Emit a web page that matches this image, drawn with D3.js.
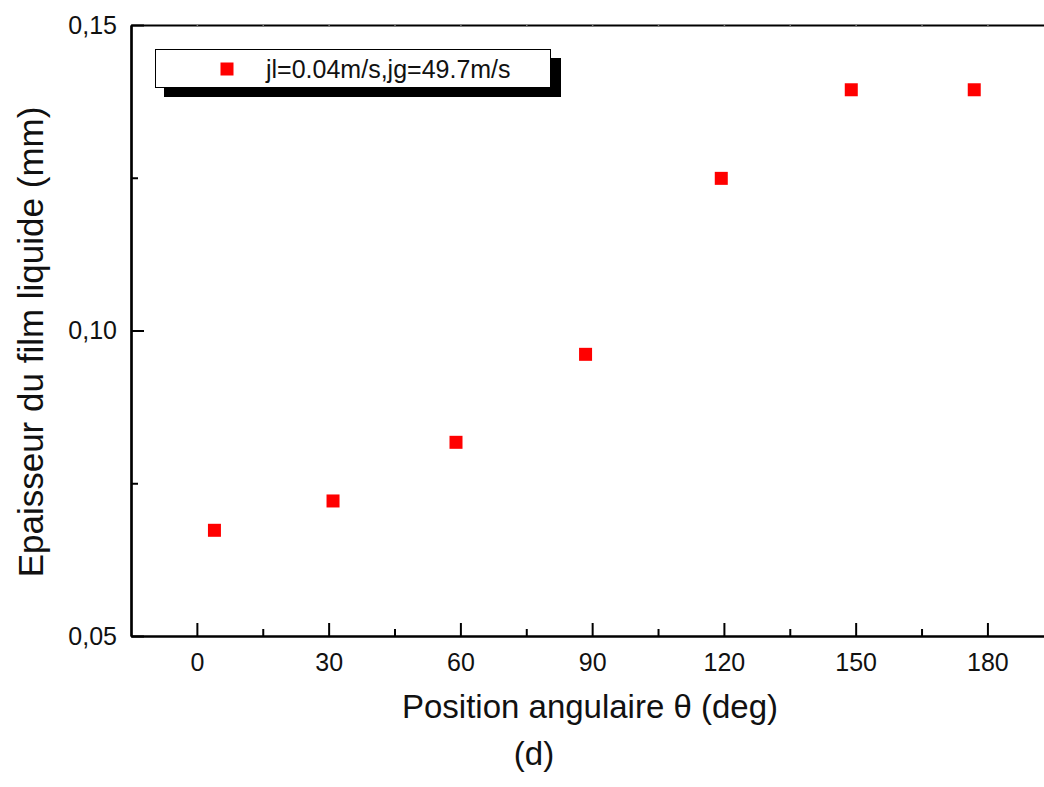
<!DOCTYPE html>
<html lang="fr">
<head>
    <meta charset="UTF-8">
    <title>Epaisseur du film liquide</title>
    <script src="https://d3js.org/d3.v7.min.js"></script>
    <style>
        body { margin: 0; background: #fff; }
        svg { display: block; font-family: "Liberation Sans", Arial, sans-serif; }
    </style>
</head>
<body>
<svg id="chart"></svg>
<script>
    // angular position (deg) and film thickness (mm)
    angles = [4, 31, 59, 88.5, 119.4, 149, 177];
    thickness = [0.0673, 0.0721, 0.0817, 0.0961, 0.1249, 0.1394, 0.1394];

    xMajorTicks = [0, 30, 60, 90, 120, 150, 180];
    xMinorTicks = [15, 45, 75, 105, 135, 165, 195];
    yMajorTicks = [0.05, 0.10, 0.15];
    yMinorTicks = [0.075, 0.125];

    seriesLabel = "jl=0.04m/s,jg=49.7m/s";

    width = 1044;
    height = 787;

    svg = d3.select("#chart")
        .attr("width", width)
        .attr("height", height);

    // the original frame runs off the right edge of the image
    xScale = d3.scaleLinear().domain([-15, 195]).range([131, 1053.3]);
    yScale = d3.scaleLinear().domain([0.05, 0.15]).range([636, 25]);

    commaFmt = d => d3.format(".2f")(d).replace(".", ",");

    // bottom axis, ticks pointing inward
    svg.append("g")
        .attr("class", "axis")
        .attr("transform", `translate(0,${yScale(0.05)})`)
        .call(d3.axisBottom(xScale).tickValues(xMinorTicks).tickSize(-7).tickSizeOuter(0).tickFormat(""));
    svg.append("g")
        .attr("class", "axis")
        .attr("transform", `translate(0,${yScale(0.05)})`)
        .call(d3.axisBottom(xScale).tickValues(xMajorTicks).tickSize(-13).tickSizeOuter(0).tickPadding(17));

    // top axis, tiny ticks
    svg.append("g")
        .attr("class", "axis top")
        .attr("transform", `translate(0,${yScale(0.15)})`)
        .call(d3.axisTop(xScale).tickValues(xMajorTicks.concat(xMinorTicks)).tickSize(-2).tickSizeOuter(0).tickFormat(""));

    // left axis
    svg.append("g")
        .attr("class", "axis")
        .attr("transform", `translate(${xScale(-15)},0)`)
        .call(d3.axisLeft(yScale).tickValues(yMinorTicks).tickSize(-7).tickSizeOuter(0).tickFormat(""));
    svg.append("g")
        .attr("class", "axis")
        .attr("transform", `translate(${xScale(-15)},0)`)
        .call(d3.axisLeft(yScale).tickValues(yMajorTicks).tickSize(-13).tickSizeOuter(0).tickPadding(14).tickFormat(commaFmt));

    svg.selectAll(".axis path.domain")
        .attr("stroke", "#000")
        .attr("stroke-width", 2.2);
    svg.selectAll(".axis .tick line")
        .attr("stroke", "#000")
        .attr("stroke-width", 2);
    svg.selectAll(".axis.top .tick line")
        .attr("stroke", "#777")
        .attr("stroke-width", 1.5);
    svg.selectAll(".axis text")
        .attr("fill", "#111")
        .style("font-size", "25px")
        .style("font-family", "'Liberation Sans', Arial, sans-serif");

    // markers
    data = angles.map((a, i) => ({angle: a, value: thickness[i]}));
    markerSize = 13;
    svg.append("g")
        .selectAll("rect")
        .data(data)
        .join("rect")
        .attr("x", d => xScale(d.angle) - markerSize / 2)
        .attr("y", d => yScale(d.value) - markerSize / 2)
        .attr("width", markerSize)
        .attr("height", markerSize)
        .attr("fill", "#ff0000");

    // legend with drop shadow
    legend = svg.append("g");
    legend.append("rect")
        .attr("x", 164).attr("y", 58)
        .attr("width", 397).attr("height", 39)
        .attr("fill", "#000");
    legend.append("rect")
        .attr("x", 155.5).attr("y", 49.5)
        .attr("width", 395).attr("height", 38)
        .attr("fill", "#fff")
        .attr("stroke", "#000")
        .attr("stroke-width", 1);
    legend.append("rect")
        .attr("x", 227 - markerSize / 2).attr("y", 69 - markerSize / 2)
        .attr("width", markerSize).attr("height", markerSize)
        .attr("fill", "#ff0000");
    legend.append("text")
        .attr("x", 266).attr("y", 78)
        .style("font-size", "25px")
        .attr("fill", "#111")
        .text(seriesLabel);

    // axis titles
    svg.append("text")
        .attr("x", 590).attr("y", 718)
        .attr("text-anchor", "middle")
        .style("font-size", "33px")
        .attr("fill", "#111")
        .text("Position angulaire θ (deg)");

    svg.append("text")
        .attr("transform", "translate(43,342) rotate(-90)")
        .attr("text-anchor", "middle")
        .style("font-size", "35px")
        .attr("fill", "#111")
        .text("Epaisseur du film liquide (mm)");

    svg.append("text")
        .attr("x", 534).attr("y", 765)
        .attr("text-anchor", "middle")
        .style("font-size", "33px")
        .attr("fill", "#111")
        .text("(d)");
</script>
</body>
</html>
